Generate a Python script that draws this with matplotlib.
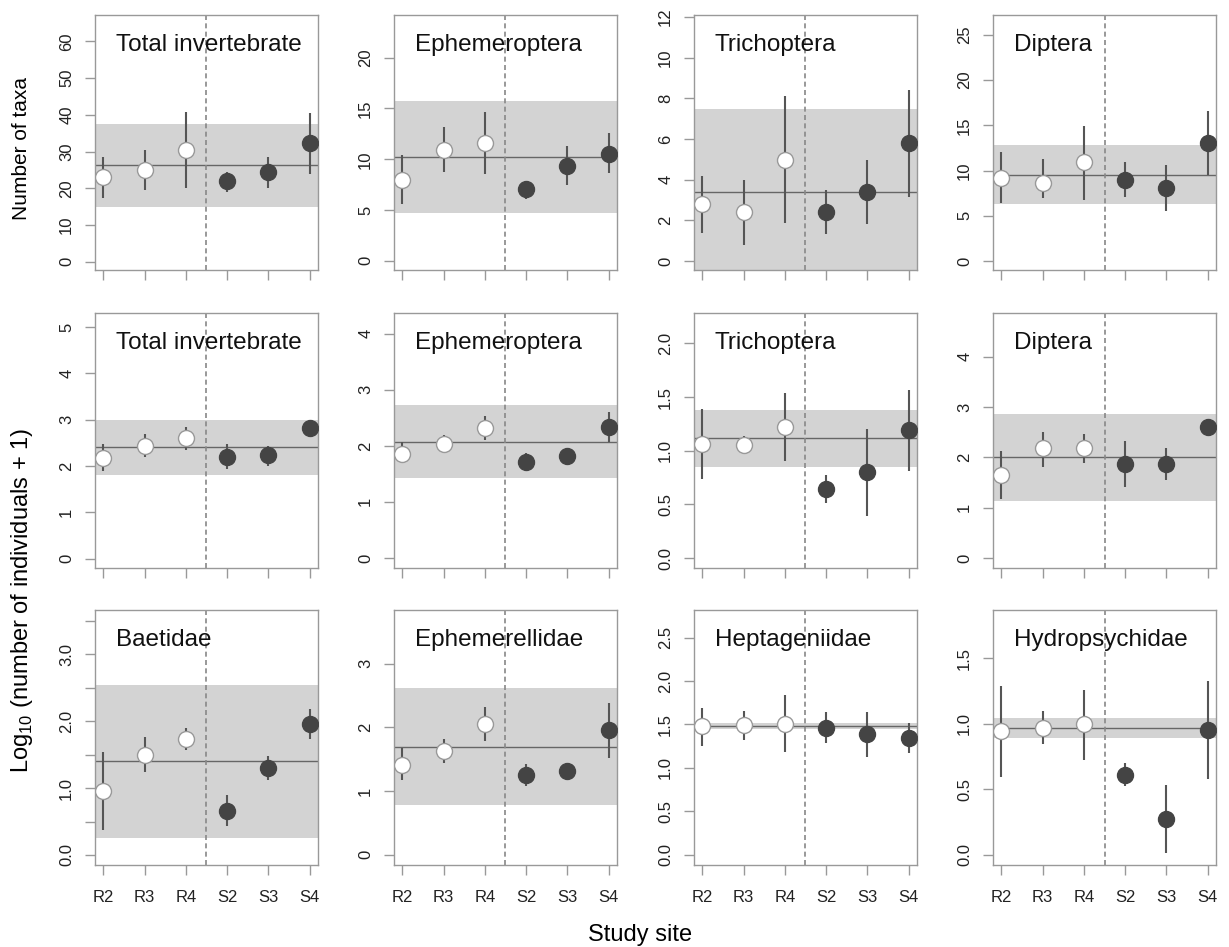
import numpy as np
import matplotlib.pyplot as plt

plt.rcParams['font.family'] = ['Liberation Sans', 'DejaVu Sans']
plt.rcParams['mathtext.fontset'] = 'custom'
plt.rcParams['mathtext.rm'] = 'Liberation Sans'

sites = ['R2', 'R3', 'R4', 'S2', 'S3', 'S4']
titles = ['Total invertebrate', 'Ephemeroptera', 'Trichoptera', 'Diptera',
          'Total invertebrate', 'Ephemeroptera', 'Trichoptera', 'Diptera',
          'Baetidae', 'Ephemerellidae', 'Heptageniidae', 'Hydropsychidae']

# row 1: number of taxa (mean, lower, upper)
tot_taxa    = [23.1, 25.0, 30.4, 22.0, 24.5, 32.2]
tot_taxa_lo = [17.4, 19.5, 20.2, 19.1, 20.2, 23.8]
tot_taxa_hi = [28.6, 30.4, 40.8, 24.5, 28.6, 40.4]
eph_taxa    = [8.0, 10.95, 11.6, 7.03, 9.38, 10.56]
eph_taxa_lo = [5.56, 8.76, 8.56, 6.05, 7.42, 8.6]
eph_taxa_hi = [10.4, 13.2, 14.64, 7.9, 11.34, 12.58]
tri_taxa    = [2.81, 2.42, 4.98, 2.42, 3.4, 5.8]
tri_taxa_lo = [1.39, 0.78, 1.85, 1.32, 1.8, 3.15]
tri_taxa_hi = [4.2, 4.0, 8.14, 3.48, 4.98, 8.42]
dip_taxa    = [9.19, 8.64, 10.92, 9.0, 8.09, 13.05]
dip_taxa_lo = [6.36, 6.99, 6.73, 7.1, 5.51, 9.56]
dip_taxa_hi = [12.1, 11.29, 14.89, 10.96, 10.59, 16.54]

# row 2: log10(number of individuals + 1)
tot_ind    = [2.18, 2.44, 2.60, 2.20, 2.23, 2.83]
tot_ind_lo = [1.89, 2.20, 2.35, 1.93, 1.99, 2.70]
tot_ind_hi = [2.48, 2.69, 2.84, 2.48, 2.44, 2.95]
eph_ind    = [1.86, 2.03, 2.32, 1.72, 1.82, 2.34]
eph_ind_lo = [1.69, 1.88, 2.10, 1.57, 1.72, 2.07]
eph_ind_hi = [2.06, 2.19, 2.54, 1.87, 1.92, 2.60]
tri_ind    = [1.059, 1.053, 1.221, 0.642, 0.797, 1.193]
tri_ind_lo = [0.732, 0.966, 0.907, 0.508, 0.393, 0.813]
tri_ind_hi = [1.389, 1.14, 1.533, 0.773, 1.199, 1.564]
dip_ind    = [1.648, 2.18, 2.18, 1.87, 1.87, 2.60]
dip_ind_lo = [1.18, 1.81, 1.89, 1.42, 1.55, 2.55]
dip_ind_hi = [2.13, 2.51, 2.47, 2.33, 2.19, 2.66]

# row 3: families
bae_ind    = [0.96, 1.50, 1.74, 0.665, 1.30, 1.965]
bae_ind_lo = [0.375, 1.24, 1.575, 0.44, 1.115, 1.74]
bae_ind_hi = [1.54, 1.765, 1.90, 0.90, 1.48, 2.18]
emr_ind    = [1.416, 1.626, 2.045, 1.253, 1.321, 1.951]
emr_ind_lo = [1.18, 1.437, 1.778, 1.075, 1.28, 1.515]
emr_ind_hi = [1.673, 1.82, 2.318, 1.426, 1.36, 2.381]
hep_ind    = [1.479, 1.491, 1.502, 1.464, 1.387, 1.344]
hep_ind_lo = [1.248, 1.325, 1.179, 1.29, 1.125, 1.171]
hep_ind_hi = [1.695, 1.66, 1.837, 1.645, 1.645, 1.518]
hyd_ind    = [0.943, 0.971, 0.997, 0.611, 0.273, 0.951]
hyd_ind_lo = [0.593, 0.843, 0.726, 0.524, 0.01, 0.575]
hyd_ind_hi = [1.29, 1.096, 1.262, 0.703, 0.534, 1.326]

# reference mean and shaded range per panel
grand_mean = [26.2, 10.2, 3.40, 9.56, 2.40, 2.07, 1.115, 2.0, 1.40, 1.689, 1.483, 0.971]
band_lo    = [15.0, 4.67, -0.6, 6.32, 1.81, 1.43, 0.847, 1.13, 0.25, 0.781, 1.445, 0.894]
band_hi    = [37.5, 15.75, 7.47, 12.87, 3.0, 2.73, 1.377, 2.864, 2.55, 2.617, 1.518, 1.045]

panels = [(tot_taxa, tot_taxa_lo, tot_taxa_hi), (eph_taxa, eph_taxa_lo, eph_taxa_hi),
          (tri_taxa, tri_taxa_lo, tri_taxa_hi), (dip_taxa, dip_taxa_lo, dip_taxa_hi),
          (tot_ind, tot_ind_lo, tot_ind_hi), (eph_ind, eph_ind_lo, eph_ind_hi),
          (tri_ind, tri_ind_lo, tri_ind_hi), (dip_ind, dip_ind_lo, dip_ind_hi),
          (bae_ind, bae_ind_lo, bae_ind_hi), (emr_ind, emr_ind_lo, emr_ind_hi),
          (hep_ind, hep_ind_lo, hep_ind_hi), (hyd_ind, hyd_ind_lo, hyd_ind_hi)]

# axis limits / ticks
ylims = [(-2.27, 67.2), (-0.9, 24.2), (-0.44, 12.1), (-1.0, 27.2),
         (-0.2, 5.3), (-0.18, 4.37), (-0.093, 2.283), (-0.2, 4.87),
         (-0.15, 3.665), (-0.16, 3.84), (-0.12, 2.82), (-0.08, 1.87)]
yticks = [np.arange(0, 61, 10), np.arange(0, 21, 5), np.arange(0, 13, 2), np.arange(0, 26, 5),
          np.arange(0, 6), np.arange(0, 5), np.arange(0, 2.01, 0.5), np.arange(0, 5),
          np.arange(0, 3.51, 0.5), np.arange(0, 4), np.arange(0, 2.51, 0.5), np.arange(0, 1.51, 0.5)]

W, H = 1229, 947
cols = [(95, 318), (394, 617), (694, 917), (993, 1216)]
rows = [(15, 270), (313, 568), (610, 865)]

fig = plt.figure(figsize=(W / 100, H / 100), dpi=100)
x = np.arange(1, 7)

for i, (m, lo, hi) in enumerate(panels):
    r, c = divmod(i, 4)
    l, rr = cols[c]
    t, b = rows[r]
    ax = fig.add_axes([l / W, 1 - b / H, (rr - l) / W, (b - t) / H])
    ax.axhspan(band_lo[i], band_hi[i], color='#d3d3d3', lw=0, zorder=1)
    ax.axhline(grand_mean[i], color='#666666', lw=1, zorder=2)
    ax.axvline(3.5, color='#888888', lw=1.2, ls=(0, (3, 2)), zorder=2)
    ax.vlines(x, lo, hi, color='#555555', lw=1.5, zorder=3)
    ax.plot(x[:3], m[:3], 'o', ms=11.5, mfc='white', mec='#999999', mew=1, zorder=4)
    ax.plot(x[3:], m[3:], 'o', ms=11.5, mfc='#444444', mec='#444444', mew=1, zorder=4)
    ax.set_xlim(0.8, 6.2)
    ax.set_ylim(*ylims[i])
    ax.set_xticks(x)
    ax.set_yticks(yticks[i])
    if r == 2:
        ax.set_xticklabels(sites)
    else:
        ax.set_xticklabels([])
    if i in (6, 10, 11):
        ax.set_yticklabels(['%.1f' % v for v in yticks[i]])
    elif i == 8:
        ax.set_yticklabels(['%.1f' % v if j % 2 == 0 else '' for j, v in enumerate(yticks[i])])
    else:
        ax.set_yticklabels(['%g' % v for v in yticks[i]])
    for s in ax.spines.values():
        s.set_color('#999999')
        s.set_linewidth(1)
    ax.tick_params(color='#999999', length=7, width=1, labelsize=12, pad=8, labelcolor='#222222')
    ax.tick_params(axis='x', pad=11)
    ax.tick_params(axis='y', labelrotation=90)
    for lab in ax.get_yticklabels():
        lab.set_va('center')
    ax.text(1.3, 1 - 36 / (b - t), titles[i], transform=ax.get_xaxis_transform(),
            fontsize=17.5, va='baseline', ha='left', color='#111111')

fig.text(22 / W, 1 - 148 / H, 'Number of taxa', rotation=90, ha='center', va='center', fontsize=15)
fig.text(22 / W, 1 - 600 / H, r'Log$_{10}$ (number of individuals + 1)', rotation=90,
         ha='center', va='center', fontsize=17)
fig.text(640 / W, 1 - 935 / H, 'Study site', ha='center', va='center', fontsize=17)

plt.savefig('out.png', dpi=100)
